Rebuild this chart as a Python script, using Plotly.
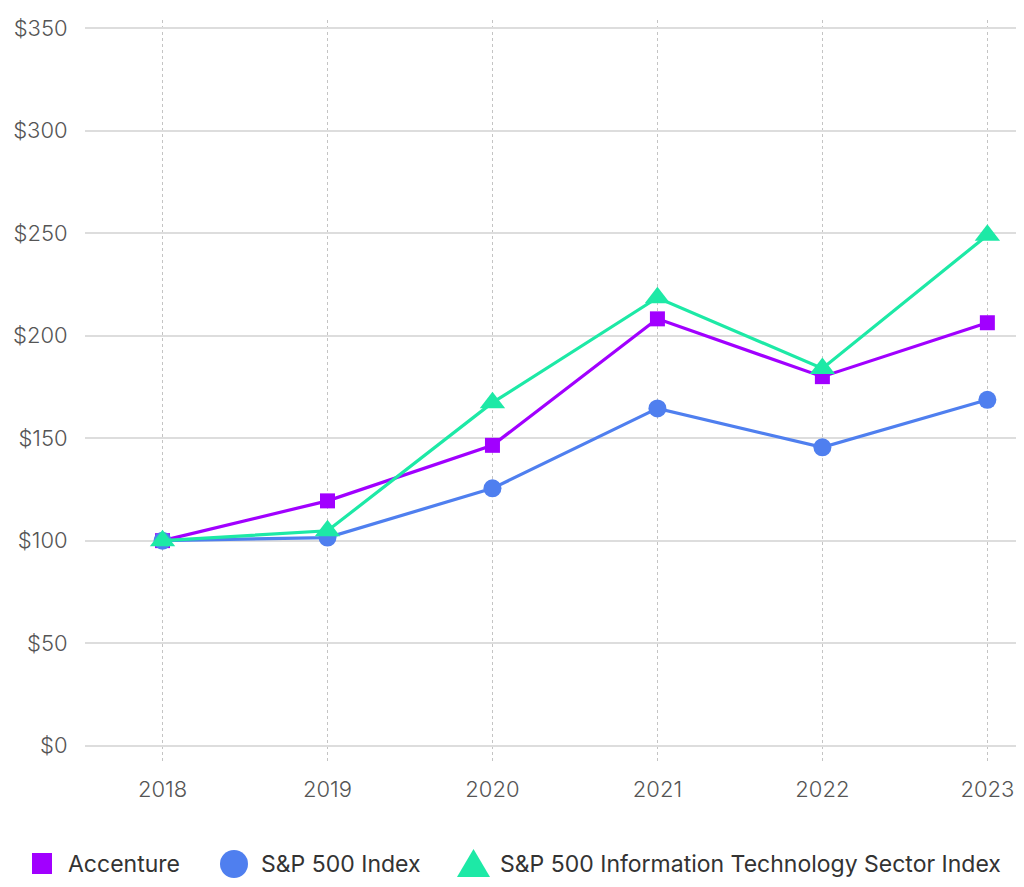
import plotly.graph_objects as go

years = ["2018", "2019", "2020", "2021", "2022", "2023"]
accenture = [100, 119.4, 146.5, 208.2, 180.0, 206.3]
sp500 = [100, 101.5, 125.5, 164.5, 145.5, 168.7]
sp500_it = [100, 104.8, 167.3, 218.5, 184.0, 249.0]
y_ticks = [0, 50, 100, 150, 200, 250, 300, 350]
y_tick_labels = ["$" + str(v) for v in y_ticks]
series_names = ["Accenture", "S&P 500 Index", "S&P 500 Information Technology Sector Index"]

x = list(range(len(years)))
PURPLE = "#A100FF"
BLUE = "#4F7FEF"
GREEN = "#1DE9A6"
FONT = "Inter, Roboto, sans-serif"

W, H = 1024, 887
OFF = 8  # page offset of the figure (body margin)
ML, MR, MT, MB = 77, 10, 12, 133
PW, PH = W - ML - MR, H - MT - MB


def px(xp):
    return (xp - OFF - ML) / PW


def py(yp):
    return (H - MB - (yp - OFF)) / PH


fig = go.Figure()
series = [
    (series_names[0], accenture, PURPLE, "square", 15),
    (series_names[1], sp500, BLUE, "circle", 18),
    (series_names[2], sp500_it, GREEN, "triangle-up", 22),
]
for name, vals, col, sym, sz in series:
    fig.add_trace(go.Scatter(
        x=x, y=vals, mode="lines+markers", name=name,
        line=dict(color=col, width=3.2),
        marker=dict(symbol=sym, size=sz, color=col),
        showlegend=False,
    ))

# custom legend (large markers as in the reference)
shapes = [
    dict(type="rect", xref="paper", yref="paper",
         x0=px(32), x1=px(52), y0=py(874), y1=py(853),
         fillcolor=PURPLE, line=dict(width=0)),
    dict(type="circle", xref="paper", yref="paper",
         x0=px(220), x1=px(248), y0=py(878), y1=py(850),
         fillcolor=BLUE, line=dict(width=0)),
    dict(type="path", xref="paper", yref="paper",
         path=f"M {px(457)} {py(877)} L {px(490)} {py(877)} L {px(473.5)} {py(849)} Z",
         fillcolor=GREEN, line=dict(width=0)),
]
legend_text_x = [66, 259, 498]
annotations = []
for name, tx in zip(series_names, legend_text_x):
    annotations.append(dict(
        xref="paper", yref="paper", x=px(tx), y=py(864), text=name,
        showarrow=False, xanchor="left", yanchor="middle",
        font=dict(family=FONT, size=23, color="#333333"),
    ))

fig.update_layout(
    width=W, height=H,
    margin=dict(l=ML, r=MR, t=MT, b=MB, autoexpand=False),
    plot_bgcolor="white", paper_bgcolor="white",
    font=dict(family=FONT, color="#555555", size=22),
    showlegend=False,
    shapes=shapes, annotations=annotations,
)
fig.update_xaxes(
    tickmode="array", tickvals=x, ticktext=years,
    range=[-0.47, 5.21], showgrid=True, gridcolor="#C4C4C4", griddash="dot",
    gridwidth=1.3, zeroline=False, showline=False,
    ticks="outside", ticklen=8, tickcolor="rgba(0,0,0,0)",
    tickfont=dict(family=FONT, size=22, color="#555555", weight=300),
    automargin=False,
)
fig.update_yaxes(
    tickmode="array", tickvals=y_ticks, ticktext=y_tick_labels,
    range=[-8, 354], showgrid=True, gridcolor="#DDDDDD", gridwidth=1.5,
    zeroline=False, showline=False,
    ticks="outside", ticklen=12, tickcolor="rgba(0,0,0,0)",
    tickfont=dict(family=FONT, size=22, color="#555555", weight=300),
    automargin=False,
)

fig.write_html("out.html")
